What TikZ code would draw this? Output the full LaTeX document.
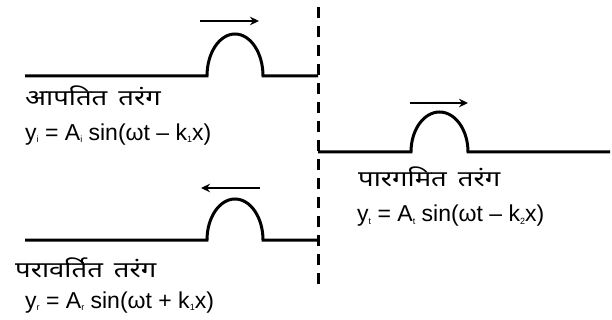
\documentclass[tikz,border=0pt]{standalone}
\usepackage{fontspec}
\setmainfont{Liberation Sans}
\newfontfamily\deva[Script=Devanagari,FakeStretch=1.25]{Noto Sans}
\usetikzlibrary{arrows.meta}
\newcommand\sbs[1]{\raisebox{-2pt}{\fontsize{9}{9}\selectfont #1}}
\newcommand\wgap{\hspace{11pt}}
\tikzset{
  wave/.style={line width=3pt},
  bound/.style={line width=3pt, dash pattern=on 11pt off 8pt},
  motion/.style={line width=2.3pt, -{Stealth[length=9pt,width=8.5pt]}},
  hindi/.style={anchor=base west, inner sep=0pt, font=\deva\fontsize{22}{22}\selectfont},
  eqn/.style={anchor=base west, inner sep=0pt, font=\fontsize{23}{23}\selectfont}
}
\begin{document}
\begin{tikzpicture}[x=1pt,y=-1pt]
\useasboundingbox (0,0) rectangle (612,320);
% boundary
\coordinate (btop) at (318,7);
\coordinate (bbot) at (318,292);
\draw[bound] (btop) -- (bbot);
% incident wave
\coordinate (i0) at (25,76);
\coordinate (i1) at (207,76);
\coordinate (i3) at (318,76);
\draw[wave] (i0) -- (i1) arc[start angle=180, end angle=0, x radius=28, y radius=-42] -- (i3);
\coordinate (ia) at (200,21);
\coordinate (ib) at (259,21);
\draw[motion] (ia) -- (ib);
\node[hindi] (tinc) at (25,106) {आपतित\wgap तरंग};
\node[eqn] (einc) at (25,141) {y\sbs{i} = A\sbs{i} sin(ωt – k\sbs{1}x)};
% reflected wave
\coordinate (r0) at (25,240);
\coordinate (r1) at (207,240);
\coordinate (r3) at (318,240);
\draw[wave] (r0) -- (r1) arc[start angle=180, end angle=0, x radius=28, y radius=-41] -- (r3);
\coordinate (ra) at (260,188);
\coordinate (rb) at (201,188);
\draw[motion] (ra) -- (rb);
\node[hindi] (tref) at (15,277) {परावर्तित\wgap तरंग};
\node[eqn] (eref) at (25,308) {y\sbs{r} = A\sbs{r} sin(ωt + k\sbs{1}x)};
% transmitted wave
\coordinate (t0) at (318,152);
\coordinate (t1) at (411,152);
\coordinate (t3) at (610,152);
\draw[wave] (t0) -- (t1) arc[start angle=180, end angle=0, x radius=28.5, y radius=-40] -- (t3);
\coordinate (ta) at (410,103);
\coordinate (tb) at (468,103);
\draw[motion] (ta) -- (tb);
\node[hindi] (ttr) at (358,187) {पारगमित\wgap तरंग};
\node[eqn] (etr) at (357,222) {y\sbs{t} = A\sbs{t} sin(ωt – k\sbs{2}x)};
\end{tikzpicture}
\end{document}
